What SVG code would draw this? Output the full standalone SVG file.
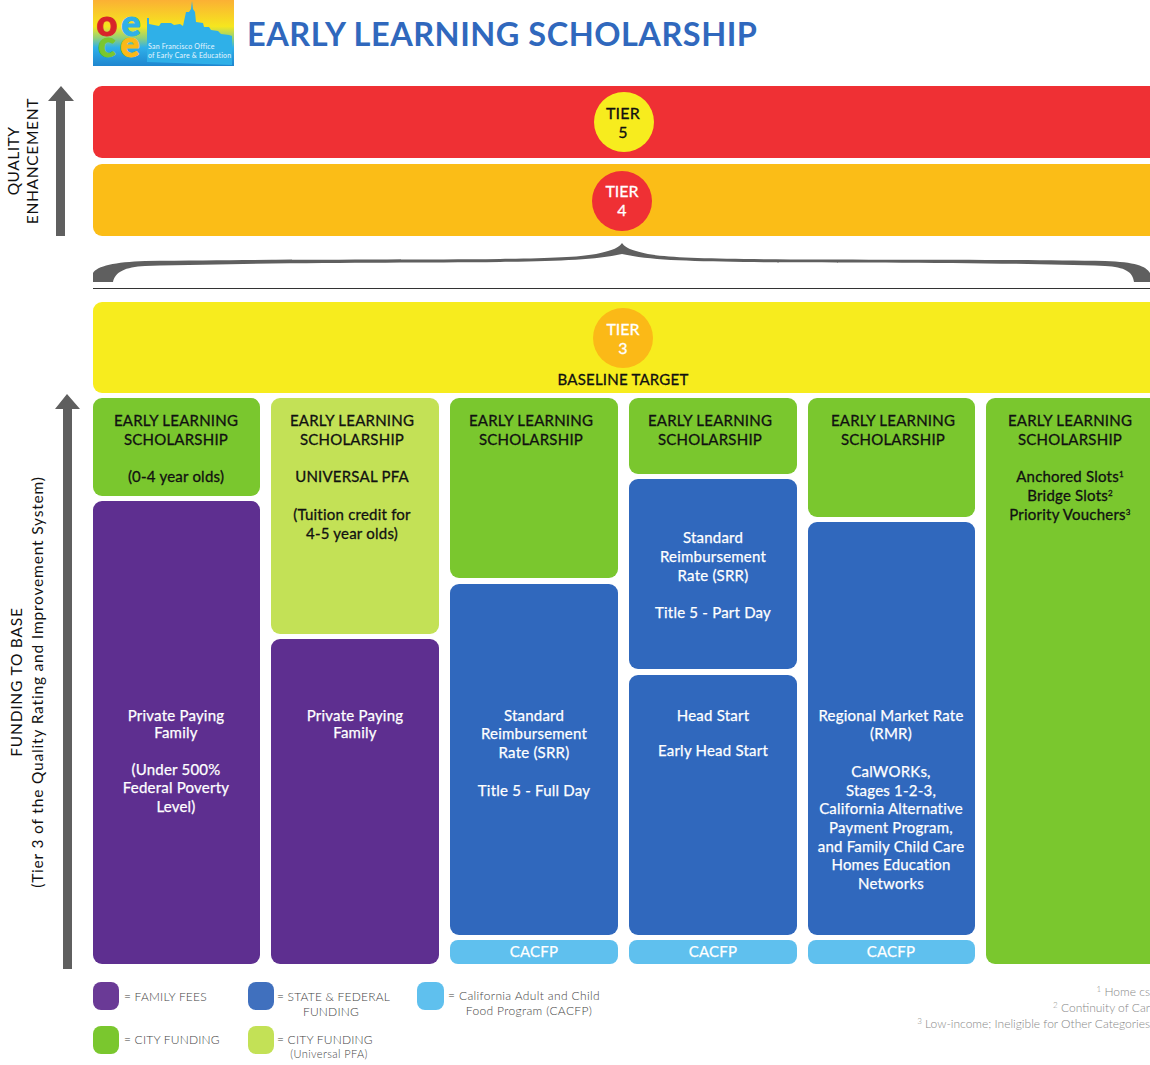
<svg xmlns="http://www.w3.org/2000/svg" width="1150" height="1065" viewBox="0 0 1150 1065">
<style>
text{font-family:Lato,"Open Sans","Liberation Sans",sans-serif}
.w{fill:#fff;stroke:#fff;stroke-width:.25px;font-size:15px;letter-spacing:.22px;text-anchor:middle}
.k{fill:#111;stroke:#111;stroke-width:.3px;font-size:15px;letter-spacing:.22px;text-anchor:middle}
.t{fill:#fff;stroke:#fff;stroke-width:.3px;font-size:16px;text-anchor:middle}
.l{fill:#444;font-size:12px;font-weight:300;letter-spacing:.2px}
.f{fill:#888;font-size:12px;font-weight:300;text-anchor:end}
.ax{fill:#111;font-size:15.5px;text-anchor:middle}
.lg1{font-size:36px;font-weight:900;text-anchor:middle}
.gr{fill:#7ac72e}.pu{fill:#5e2f90}.bl{fill:#3068bd}.cy{fill:#5fc0ee}.lg{fill:#c3e156}
</style>
<defs>
<linearGradient id="sky" x1="0" y1="0" x2="0" y2="1"><stop offset="0" stop-color="#fbb034"/><stop offset=".4" stop-color="#f6e61e"/><stop offset=".58" stop-color="#8fd07a"/><stop offset=".72" stop-color="#2fb0ea"/><stop offset="1" stop-color="#1f86cf"/></linearGradient>
</defs>
<g id="logo">
<rect x="93" y="0" width="141" height="66" fill="url(#sky)"/>
<path d="M147 62V18h2v6l10 2 2-3h10l3 2 6-1 3 2 3-14h3l2-3 1-8 1 8 2 3 1 10 7 1 1 4h5l2 3 7 1 3 3 8 1 3 1v29z" fill="#2fb0e8"/>
<text class="lg1" x="107" y="36" fill="#d8232a" stroke="#d8232a">o</text>
<text class="lg1" x="131" y="36" fill="#2fb0e8" stroke="#2fb0e8">e</text>
<text class="lg1" x="107" y="57" fill="#7ac72e" stroke="#7ac72e">c</text>
<text class="lg1" x="130" y="57" fill="#fbb917" stroke="#fbb917">e</text>
<text x="148" y="49" style="font-size:7px;fill:#e8f6ff;letter-spacing:.2px">San Francisco Office</text>
<text x="148" y="58" style="font-size:7px;fill:#e8f6ff;letter-spacing:.2px">of Early Care &amp; Education</text>
</g>
<text id="title" x="247" y="46" style="font-size:32.5px;font-weight:700;fill:#3068bd;letter-spacing:.5px">EARLY LEARNING SCHOLARSHIP</text>
<g id="connectors" fill="#5f5f5f">
<path d="M56 236V101H48L61 86L74 101H65V236z"/>
<path d="M63 969V409H55L67 394L80 409H72V969z"/>
<path d="M93 282V273C97 266 115 262 145 261C300 259 400 260 500 259C560 258 590 257 608 251C615 249 619 247 622 243C625 247 629 249 636 251C654 257 684 258 744 259C844 260 1000 259 1105 261C1135 262 1146 266 1150 273V282H1134C1133 272 1125 267 1105 266C1000 262 844 263 744 262C684 261 650 260 622 254C594 260 560 261 500 262C400 263 300 262 145 266C125 267 115 272 113 282z"/>
<rect x="93" y="288" width="1057" height="1" fill="#333"/>
</g>
<g id="axis-labels">
<text class="ax" transform="translate(19 161) rotate(-90)" style="letter-spacing:.5px">QUALITY</text>
<text class="ax" transform="translate(38 161) rotate(-90)" style="letter-spacing:.7px">ENHANCEMENT</text>
<text class="ax" transform="translate(22 682) rotate(-90)" style="letter-spacing:.8px">FUNDING TO BASE</text>
<text class="ax" transform="translate(43 682) rotate(-90)" style="letter-spacing:.82px">(Tier 3 of the Quality Rating and Improvement System)</text>
</g>
<g id="tier5"><rect x="93" y="86" width="1070" height="72" rx="9" fill="#ef3034"/><circle cx="624" cy="122" r="30" fill="#f7ec1e"/><text class="k" style="font-size:16px" x="623" y="119">TIER</text><text class="k" style="font-size:16px" x="623" y="138">5</text></g>
<g id="tier4"><rect x="93" y="164" width="1070" height="72" rx="9" fill="#fbbd17"/><circle cx="622" cy="201" r="30" fill="#ef3034"/><text class="t" x="622" y="197">TIER</text><text class="t" x="622" y="216">4</text></g>
<g id="tier3"><rect x="93" y="302" width="1070" height="91" rx="9" fill="#f7ec1e"/><circle cx="623" cy="338" r="30" fill="#fbb917"/><text class="t" x="623" y="335">TIER</text><text class="t" x="623" y="354">3</text><text class="k" x="623" y="385">BASELINE TARGET</text></g>
<g id="col1-city"><rect class="gr" x="93" y="398" width="167" height="98" rx="9"/><text class="k" x="176" y="426">EARLY LEARNING</text><text class="k" x="176" y="445">SCHOLARSHIP</text><text class="k" x="176" y="482">(0-4 year olds)</text></g>
<g id="col1-family"><rect class="pu" x="93" y="501" width="167" height="463" rx="9"/><text class="w" x="176" y="721">Private Paying</text><text class="w" x="176" y="738">Family</text><text class="w" x="176" y="775">(Under 500%</text><text class="w" x="176" y="793">Federal Poverty</text><text class="w" x="176" y="812">Level)</text></g>
<g id="col2-city"><rect class="lg" x="271" y="398" width="168" height="236" rx="9"/><text class="k" x="352" y="426">EARLY LEARNING</text><text class="k" x="352" y="445">SCHOLARSHIP</text><text class="k" x="352" y="482">UNIVERSAL PFA</text><text class="k" x="352" y="520">(Tuition credit for</text><text class="k" x="352" y="539">4-5 year olds)</text></g>
<g id="col2-family"><rect class="pu" x="271" y="639" width="168" height="325" rx="9"/><text class="w" x="355" y="721">Private Paying</text><text class="w" x="355" y="738">Family</text></g>
<g id="col3-city"><rect class="gr" x="450" y="398" width="168" height="180" rx="9"/><text class="k" x="531" y="426">EARLY LEARNING</text><text class="k" x="531" y="445">SCHOLARSHIP</text></g>
<g id="col3-state"><rect class="bl" x="450" y="584" width="168" height="351" rx="9"/><text class="w" x="534" y="721">Standard</text><text class="w" x="534" y="739">Reimbursement</text><text class="w" x="534" y="758">Rate (SRR)</text><text class="w" x="534" y="796">Title 5 - Full Day</text></g>
<g id="col3-cacfp"><rect class="cy" x="450" y="940" width="168" height="24" rx="8"/><text class="w" x="534" y="957">CACFP</text></g>
<g id="col4-city"><rect class="gr" x="629" y="398" width="168" height="76" rx="9"/><text class="k" x="710" y="426">EARLY LEARNING</text><text class="k" x="710" y="445">SCHOLARSHIP</text></g>
<g id="col4-srr"><rect class="bl" x="629" y="479" width="168" height="190" rx="9"/><text class="w" x="713" y="543">Standard</text><text class="w" x="713" y="562">Reimbursement</text><text class="w" x="713" y="581">Rate (SRR)</text><text class="w" x="713" y="618">Title 5 - Part Day</text></g>
<g id="col4-headstart"><rect class="bl" x="629" y="675" width="168" height="260" rx="9"/><text class="w" x="713" y="721">Head Start</text><text class="w" x="713" y="756">Early Head Start</text></g>
<g id="col4-cacfp"><rect class="cy" x="629" y="940" width="168" height="24" rx="8"/><text class="w" x="713" y="957">CACFP</text></g>
<g id="col5-city"><rect class="gr" x="808" y="398" width="167" height="119" rx="9"/><text class="k" x="893" y="426">EARLY LEARNING</text><text class="k" x="893" y="445">SCHOLARSHIP</text></g>
<g id="col5-rmr"><rect class="bl" x="808" y="522" width="167" height="413" rx="9"/><text class="w" x="891" y="721">Regional Market Rate</text><text class="w" x="891" y="739">(RMR)</text><text class="w" x="891" y="777">CalWORKs,</text><text class="w" x="891" y="796">Stages 1-2-3,</text><text class="w" x="891" y="814">California Alternative</text><text class="w" x="891" y="833">Payment Program,</text><text class="w" x="891" y="852">and Family Child Care</text><text class="w" x="891" y="870">Homes Education</text><text class="w" x="891" y="889">Networks</text></g>
<g id="col5-cacfp"><rect class="cy" x="808" y="940" width="167" height="24" rx="8"/><text class="w" x="891" y="957">CACFP</text></g>
<g id="col6-city"><rect class="gr" x="986" y="398" width="180" height="566" rx="9"/><text class="k" x="1070" y="426">EARLY LEARNING</text><text class="k" x="1070" y="445">SCHOLARSHIP</text><text class="k" x="1070" y="482">Anchored Slots<tspan dy="-5" style="font-size:8px">1</tspan></text><text class="k" x="1070" y="501">Bridge Slots<tspan dy="-5" style="font-size:8px">2</tspan></text><text class="k" x="1070" y="520">Priority Vouchers<tspan dy="-5" style="font-size:8px">3</tspan></text></g>
<g id="legend-family"><rect x="93" y="982" width="26" height="28" rx="8" fill="#6a3a96"/><text class="l" x="124" y="1001">= FAMILY FEES</text></g>
<g id="legend-state"><rect x="248" y="982" width="26" height="28" rx="8" fill="#4070be"/><text class="l" x="277" y="1001">= STATE &amp; FEDERAL</text><text class="l" x="331" y="1016" text-anchor="middle">FUNDING</text></g>
<g id="legend-cacfp"><rect x="417" y="982" width="27" height="28" rx="8" fill="#5fc0ee"/><text class="l" x="448" y="1000" style="letter-spacing:.35px">= California Adult and Child</text><text class="l" x="529" y="1015" text-anchor="middle" style="letter-spacing:.35px">Food Program (CACFP)</text></g>
<g id="legend-city"><rect class="gr" x="93" y="1026" width="26" height="28" rx="8"/><text class="l" x="124" y="1044">= CITY FUNDING</text></g>
<g id="legend-upfa"><rect class="lg" x="248" y="1026" width="26" height="28" rx="8"/><text class="l" x="277" y="1044">= CITY FUNDING</text><text class="l" x="329" y="1058" text-anchor="middle" style="font-size:11px;letter-spacing:.4px">(Universal PFA)</text></g>
<g id="footnotes"><text class="f" x="1150" y="996"><tspan dy="-4" style="font-size:8px">1</tspan><tspan dy="4"> Home cs</tspan></text><text class="f" x="1150" y="1012"><tspan dy="-4" style="font-size:8px">2</tspan><tspan dy="4"> Continuity of Car</tspan></text><text class="f" x="1150" y="1028"><tspan dy="-4" style="font-size:8px">3</tspan><tspan dy="4"> Low-income; Ineligible for Other Categories</tspan></text></g>
</svg>
